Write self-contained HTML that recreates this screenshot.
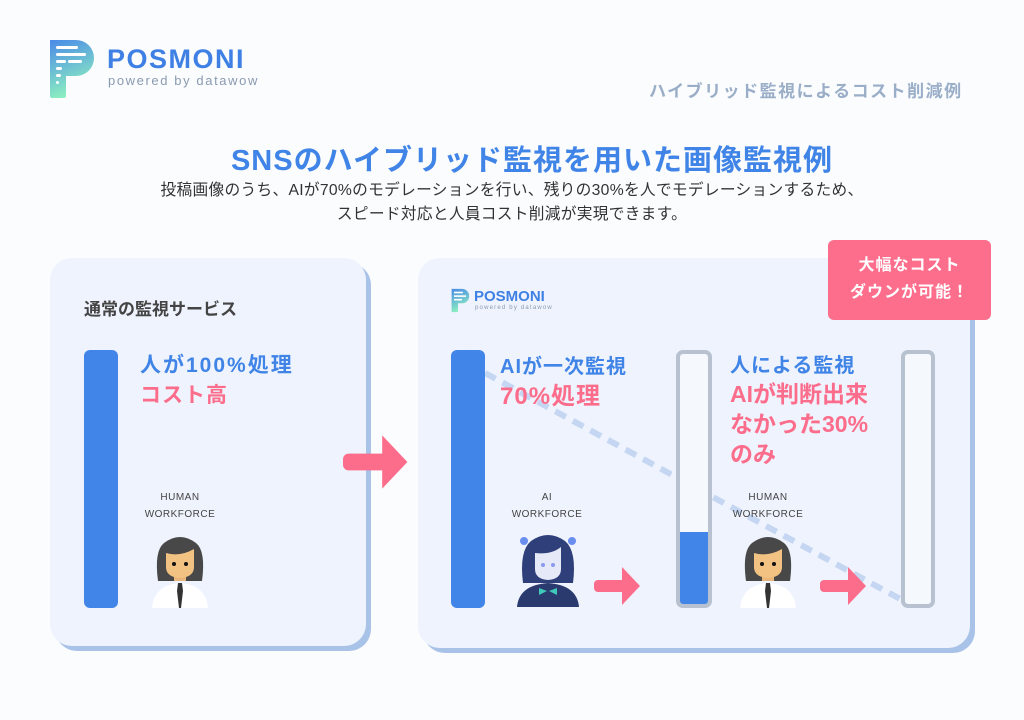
<!DOCTYPE html>
<html><head><meta charset="utf-8"><style>
*{margin:0;padding:0;box-sizing:border-box}
body{width:1024px;height:720px;background:#fbfcfe;position:relative;overflow:hidden;font-family:"Liberation Sans","Noto Sans CJK JP",sans-serif}
.abs{position:absolute}
.card{position:absolute;background:#eef3fd;border-radius:22px;box-shadow:5px 5px 0 #a9c3e8}
.bar{position:absolute;background:#4285e8;border-radius:6px}
.tube{position:absolute;border:4px solid #b7c1cf;border-radius:7px;background:#f5f8fd;overflow:hidden}
.lbl{position:absolute;font-size:10px;color:#444;text-align:center;line-height:17px;letter-spacing:.5px;width:110px}
.b{font-weight:bold}
</style></head><body>
<!-- logo -->
<svg class="abs" style="left:46px;top:38px" width="50" height="62" viewBox="0 0 50 62">
<defs><linearGradient id="g" x1="0" y1="0" x2="0.3" y2="1"><stop offset="0" stop-color="#4a8ae8"/><stop offset="1" stop-color="#8cf0c0"/></linearGradient></defs>
<path d="M4 2 H30 A18 18 0 0 1 30 38 H20 V58 A2 2 0 0 1 18 60 H6 A2 2 0 0 1 4 58 Z" fill="url(#g)"/>
<g fill="#fff"><rect x="10" y="8" width="22" height="3" rx="1.5"/><rect x="10" y="15" width="30" height="3" rx="1.5"/><rect x="10" y="22" width="10" height="3" rx="1.5"/><rect x="22" y="22" width="14" height="3" rx="1.5"/><rect x="10" y="29" width="6" height="3" rx="1.5"/><rect x="10" y="36" width="5" height="3" rx="1.5"/><rect x="10" y="43" width="3" height="3" rx="1.5"/></g></svg>
<div class="abs b" style="left:107px;top:44px;font-size:27px;color:#3f80e4;letter-spacing:1.5px">POSMONI</div>
<div class="abs" style="left:108px;top:73px;font-size:13px;color:#8a9ab0;letter-spacing:1.6px">powered by datawow</div>
<div class="abs b" style="left:649px;top:77px;font-size:17px;color:#9aaec8;letter-spacing:1.5px">ハイブリッド監視によるコスト削減例</div>
<div class="abs b" style="left:20px;width:1024px;text-align:center;top:137px;font-size:29px;color:#3f84e6;letter-spacing:1px">SNSのハイブリッド監視を用いた画像監視例</div>
<div class="abs" style="left:0;width:1024px;text-align:center;top:179px;font-size:15.7px;color:#333;line-height:24px;letter-spacing:.3px">投稿画像のうち、AIが70%のモデレーションを行い、残りの30%を人でモデレーションするため、<br>スピード対応と人員コスト削減が実現できます。</div>

<!-- left card -->
<div class="card" style="left:50px;top:258px;width:316px;height:388px"></div>
<div class="abs b" style="left:84px;top:295px;font-size:17px;color:#444">通常の監視サービス</div>
<div class="bar" style="left:84px;top:350px;width:34px;height:258px"></div>
<div class="abs b" style="left:140px;top:351px;font-size:21px;color:#3f84e6;line-height:30px;letter-spacing:2px">人が100%処理<br><span style="color:#fc6d8c;letter-spacing:1px">コスト高</span></div>
<div class="lbl" style="left:125px;top:489px">HUMAN<br>WORKFORCE</div>

<!-- right card -->
<div class="card" style="left:418px;top:258px;width:552px;height:390px"></div>
<svg class="abs" style="left:450px;top:287px" width="20" height="27" viewBox="0 0 50 62"><path d="M4 2 H30 A18 18 0 0 1 30 38 H20 V58 A2 2 0 0 1 18 60 H6 A2 2 0 0 1 4 58 Z" fill="url(#g)"/><g fill="#fff"><rect x="10" y="9" width="22" height="4"/><rect x="10" y="18" width="30" height="4"/><rect x="10" y="27" width="20" height="4"/></g></svg>
<div class="abs b" style="left:474px;top:288px;font-size:15px;color:#3f80e4">POSMONI</div>
<div class="abs" style="left:475px;top:305px;font-size:6px;color:#8a9ab0;letter-spacing:1.2px">powered by datawow</div>

<svg class="abs" style="left:0;top:0" width="1024" height="720">
<line x1="485" y1="373" x2="902" y2="600" stroke="#c4d6f2" stroke-width="6" stroke-dasharray="12 8"/>
</svg>
<div class="bar" style="left:451px;top:350px;width:34px;height:258px"></div>
<div class="tube" style="left:676px;top:350px;width:36px;height:258px"><div style="position:absolute;left:0;right:0;bottom:0;height:72px;background:#4285e8"></div></div>
<div class="tube" style="left:901px;top:350px;width:34px;height:258px"></div>
<div class="abs b" style="left:500px;top:352px;font-size:20px;color:#3f84e6;line-height:30px;letter-spacing:1px">AIが一次監視<br><span style="color:#fc6d8c;font-size:24px">70%処理</span></div>
<div class="abs b" style="left:730px;top:352px;font-size:20px;color:#3f84e6;line-height:28px;letter-spacing:1px">人による監視<br><span style="color:#fc6d8c;font-size:23px;line-height:29px;letter-spacing:0">AIが判断出来<br>なかった30%<br>のみ</span></div>
<div class="lbl" style="left:492px;top:489px">AI<br>WORKFORCE</div>
<div class="lbl" style="left:713px;top:489px">HUMAN<br>WORKFORCE</div>

<!-- badge -->
<div class="abs b" style="left:828px;top:240px;width:163px;height:80px;background:#fc6e8c;border-radius:6px;color:#fff;font-size:16px;line-height:27px;text-align:center;padding-top:12px;letter-spacing:1px">大幅なコスト<br>ダウンが可能！</div>

<!-- arrows -->
<svg class="abs" style="left:0;top:0" width="1024" height="720">
<defs>
<g id="arr"><rect x="0" y="-6" width="32" height="12" rx="4"/><path d="M28 -19 L46 0 L28 19 Z"/></g>
<g id="hum">
<path d="M2 75 Q4 52 30 50 Q56 52 58 75 Z" fill="#fff"/>
<path d="M8 48 Q4 18 14 10 Q30 -2 46 10 Q56 18 52 48 Z" fill="#484848"/>
<rect x="24" y="36" width="12" height="12" fill="#e8b67a"/>
<path d="M16 20 Q30 24 44 16 L44 34 Q44 44 30 45 Q16 44 16 34 Z" fill="#f2c283"/>
<circle cx="24" cy="31" r="2" fill="#111"/><circle cx="36" cy="31" r="2" fill="#111"/>
<path d="M28 50 L32 50 L33 58 L31 75 L29 75 L27 58Z" fill="#333"/>
</g>
</defs>
<g fill="#fc6d8c" transform="translate(343,462) scale(1.4)"><use href="#arr"/></g>
<g fill="#fc6d8c"><use href="#arr" x="594" y="586"/><use href="#arr" x="820" y="586"/></g>
<use href="#hum" x="150" y="533"/>
<use href="#hum" x="738" y="533"/>
<g transform="translate(517,533)">
<path d="M0 74 Q2 52 31 50 Q60 52 62 74 Z" fill="#2a3a6e"/>
<path d="M6 50 Q2 18 14 8 Q31 -4 48 8 Q60 18 56 50 Z" fill="#2f3f7a"/>
<path d="M18 20 Q34 22 44 14 L44 36 Q44 46 31 47 Q18 46 18 36 Z" fill="#e6e9f7"/>
<circle cx="26" cy="32" r="2" fill="#8a9bf0"/><circle cx="36" cy="32" r="2" fill="#8a9bf0"/>
<circle cx="7" cy="8" r="4" fill="#6a8df0"/><circle cx="55" cy="8" r="4" fill="#6a8df0"/>
<path d="M22 55 L30 58 L22 62Z M40 55 L32 58 L40 62Z" fill="#3fc9b8"/>
</g>
</svg>
</body></html>
